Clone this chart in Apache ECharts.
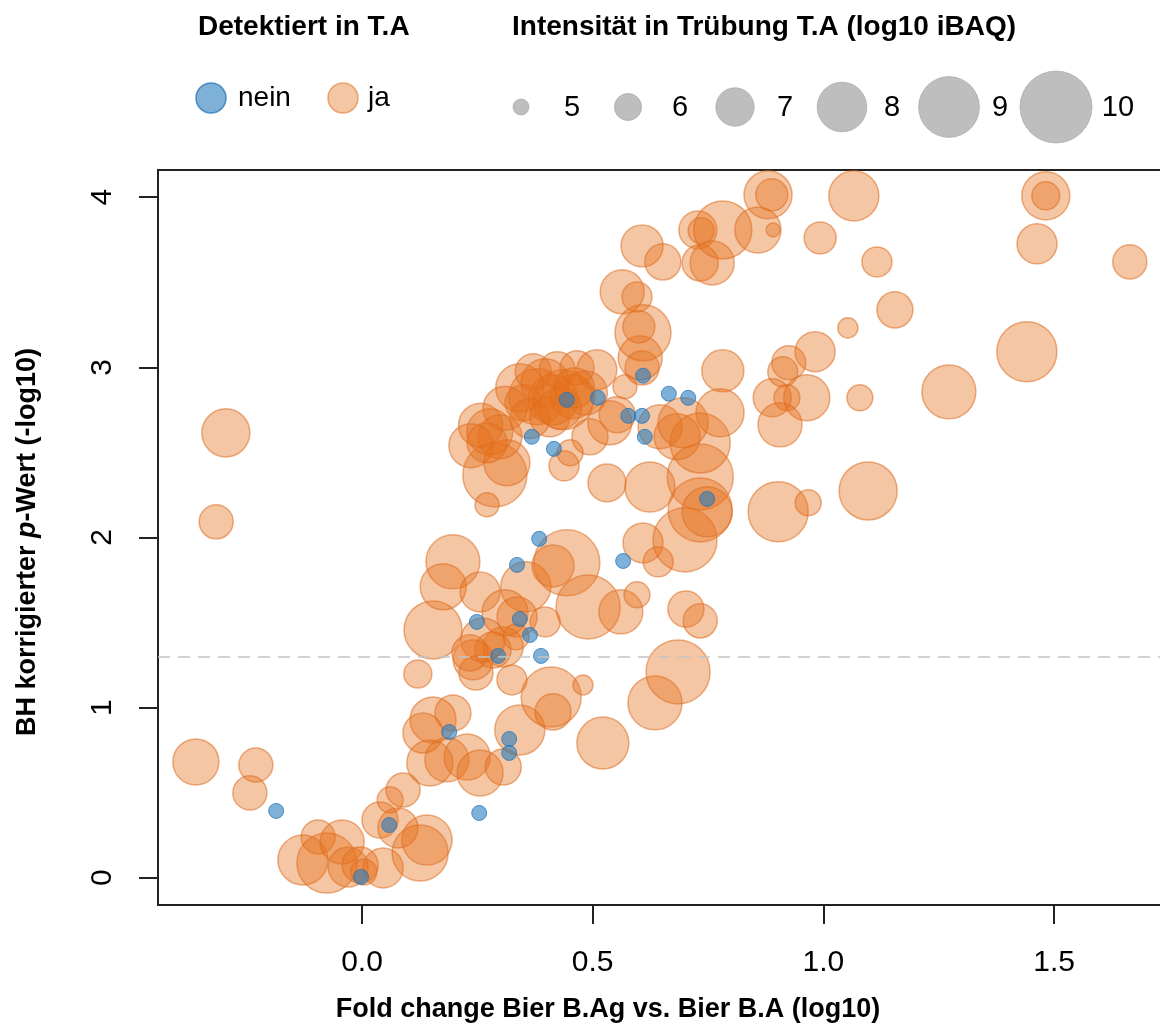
<!DOCTYPE html>
<html>
<head>
<meta charset="utf-8">
<script src="https://cdn.jsdelivr.net/npm/echarts@6/dist/echarts.min.js"></script>
<style>
html,body{margin:0;padding:0;background:#fff;}
#chart{width:1160px;height:1034px;}
</style>
</head>
<body>
<div id="chart"></div>
<script>
// ---------- data ----------
// detected in T.A ("ja"): fold change (log10), -log10 BH p, intensity (log10 iBAQ)
var jaX = [-0.295,-0.316,-0.360,-0.230,-0.243,-0.095,-0.128,-0.076,-0.043,-0.030,-0.004,0.046,0.126,0.141,0.039,0.078,0.061,0.089,0.004,
  0.121,0.154,0.197,0.132,0.147,0.184,0.228,0.256,0.306,0.342,0.410,0.414,0.479,0.522,0.635,0.685,0.247,0.325,
  0.154,0.176,0.197,0.256,0.355,0.310,0.262,0.306,0.284,0.241,0.397,0.336,0.234,0.334,0.444,0.414,0.490,0.561,0.596,0.609,0.642,0.702,0.733,
  0.700,0.733,0.733,0.748,0.902,0.967,1.097,0.624,0.531,0.438,0.288,0.314,0.271,0.277,0.299,0.271,
  0.349,0.379,0.414,0.436,0.457,0.371,0.423,0.466,0.509,0.407,0.494,0.451,0.553,0.537,0.646,0.683,0.733,0.696,
  0.570,0.607,0.603,0.609,0.600,0.564,0.596,0.607,0.652,0.728,0.735,0.782,0.858,0.891,0.733,0.759,0.880,0.888,
  1.066,1.482,1.482,1.463,1.664,1.116,0.993,1.155,1.053,0.982,0.925,0.912,0.889,0.964,0.921,0.906,1.079,0.782,0.776,1.441,1.272,
  0.342,0.397,0.484,0.310,0.364,0.257,0.236,0.430,0.460];
var jaY = [2.615,2.092,0.681,0.663,0.499,0.240,0.105,0.087,0.210,0.063,0.075,0.058,0.146,0.222,0.340,0.293,0.458,0.516,0.034,
  1.198,0.928,0.969,0.851,0.675,0.693,0.710,0.616,0.651,0.869,1.063,0.975,1.133,0.792,1.028,1.210,1.204,1.163,
  1.457,1.710,1.857,1.680,1.710,1.557,1.398,1.357,1.339,1.281,1.504,1.533,1.322,1.416,1.851,1.833,1.592,1.563,1.663,1.968,1.857,1.580,1.510,
  1.986,2.356,2.162,2.151,2.151,2.204,2.274,2.297,2.321,2.421,2.368,2.439,2.192,2.621,2.592,2.557,
  2.792,2.827,2.809,2.809,2.827,2.974,2.986,2.998,2.986,2.709,2.592,2.498,2.721,2.674,2.651,2.592,2.556,2.674,
  2.886,2.997,3.056,3.203,3.238,3.444,3.414,3.714,3.620,3.808,3.803,3.808,3.808,3.808,3.614,3.614,4.014,4.014,
  4.008,4.008,4.008,3.726,3.620,3.620,3.761,3.338,3.232,3.092,3.027,2.974,2.821,2.821,2.821,2.662,2.821,2.980,2.733,3.092,2.856,
  2.880,2.910,2.850,2.760,2.700,2.660,2.540,2.760,2.880];
var jaIntensity = [7.86,6.61,7.68,6.61,6.61,6.61,8.04,8.93,7.50,7.14,6.79,7.14,8.57,8.04,6.79,7.14,5.89,6.61,5.89,
  6.07,7.68,6.79,7.14,7.68,7.50,7.68,7.68,6.79,8.04,8.93,6.79,5.36,8.21,8.39,9.29,6.61,6.25,
  8.75,7.68,8.39,7.14,8.04,7.68,7.50,7.14,6.79,7.14,6.25,7.14,6.79,5.89,9.46,7.32,9.29,7.50,5.89,7.14,6.25,6.79,6.61,
  9.29,9.46,9.29,8.04,8.93,5.89,8.75,8.04,6.96,6.25,9.29,7.68,5.71,7.68,7.50,7.14,
  6.79,8.57,8.04,8.93,7.50,6.79,6.79,6.61,7.14,7.14,6.79,5.89,6.79,7.50,7.50,7.68,8.93,8.04,
  5.71,6.61,7.50,8.57,6.43,7.50,6.25,7.32,6.79,6.96,5.89,8.75,7.68,4.82,6.79,7.50,7.86,6.43,
  8.04,7.86,6.07,7.14,6.61,6.25,6.43,6.79,5.36,7.14,6.61,6.25,6.96,7.68,5.89,7.50,5.89,7.32,7.86,8.93,8.39,
  7.86,7.86,7.50,7.50,7.14,7.50,7.50,7.32,7.14];
// not detected in T.A ("nein")
var neinX = [-0.186,0.254,0.319,0.319,0.189,0.059,-0.002,0.295,0.388,0.249,0.342,0.364,0.336,0.384,0.566,0.748,0.416,0.368,0.444,0.511,0.577,0.607,0.613,0.609,0.665,0.707];
var neinY = [0.393,0.381,0.816,0.734,0.857,0.310,0.005,1.304,1.304,1.504,1.521,1.427,1.839,1.992,1.862,2.227,2.521,2.592,2.809,2.821,2.715,2.715,2.592,2.951,2.845,2.821];
// legend / axis labels
var legendSizes = [5, 6, 7, 8, 9, 10];
var xTicks = [0, 0.5, 1.0, 1.5];
var yTicks = [0, 1, 2, 3, 4];
var threshold = 1.301; // -log10(0.05)

// ---------- helpers ----------
function radiusOf(v){ return 8 + 5.6 * (v - 5); }
var FONT = 'Liberation Sans, Arial, Helvetica, sans-serif';
var ORANGE_FILL = 'rgba(230,112,28,0.40)';
var ORANGE_LINE = 'rgba(220,110,35,0.55)';
var BLUE_FILL = 'rgba(40,125,190,0.60)';
var BLUE_LINE = 'rgba(40,115,180,0.75)';
var AXIS_LINE = {show:true, onZero:false, lineStyle:{color:'#222', width:2}};

var jaData = jaX.map(function(x,i){ return [x, jaY[i], jaIntensity[i]]; });
var neinData = neinX.map(function(x,i){ return [x, neinY[i]]; });

// legend graphics
var graphics = [
  {type:'text', x:198, y:27, style:{text:'Detektiert in T.A', font:'bold 28px '+FONT, fill:'#000', textVerticalAlign:'middle'}},
  {type:'text', x:512, y:27, style:{text:'Intensität in Trübung T.A (log10 iBAQ)', font:'bold 28px '+FONT, fill:'#000', textVerticalAlign:'middle'}},
  {type:'circle', shape:{cx:211, cy:98, r:15}, style:{fill:BLUE_FILL, stroke:BLUE_LINE, lineWidth:1.5}},
  {type:'text', x:238, y:98, style:{text:'nein', font:'28px '+FONT, fill:'#000', textVerticalAlign:'middle'}},
  {type:'circle', shape:{cx:343, cy:98, r:15}, style:{fill:ORANGE_FILL, stroke:ORANGE_LINE, lineWidth:1.5}},
  {type:'text', x:368, y:98, style:{text:'ja', font:'28px '+FONT, fill:'#000', textVerticalAlign:'middle'}},
  // axis titles
  {type:'text', x:608, y:1010, style:{text:'Fold change Bier B.Ag vs. Bier B.A (log10)', font:'bold 27px '+FONT, fill:'#000', textAlign:'center', textVerticalAlign:'middle'}},
  {type:'text', x:28, y:542, rotation:Math.PI/2, style:{
     text:'BH korrigierter {i|p}-Wert (-log10)', font:'bold 27px '+FONT, fill:'#000', textAlign:'center', textVerticalAlign:'middle',
     rich:{i:{font:'italic bold 27px '+FONT, fill:'#000'}}}}
];
var legendCx = [521, 628, 735, 842, 949, 1056];
var legendLabelX = [572, 680, 785, 892, 1000, 1118];
legendSizes.forEach(function(v,i){
  graphics.push({type:'circle', shape:{cx:legendCx[i], cy:107, r:radiusOf(v)}, style:{fill:'rgba(150,150,150,0.62)', stroke:'rgba(160,160,160,0.6)', lineWidth:1}});
  graphics.push({type:'text', x:legendLabelX[i], y:108, style:{text:String(v), font:'29px '+FONT, fill:'#000', textAlign:'center', textVerticalAlign:'middle'}});
});

var chart = echarts.init(document.getElementById('chart'), null, {renderer:'canvas'});
chart.setOption({
  animation:false,
  backgroundColor:'#fff',
  grid:{left:158, top:170, right:0, bottom:129, show:false},
  xAxis:[
    {type:'value', position:'bottom', min:-0.4421, max:1.7295, splitLine:{show:false},
     axisLine:AXIS_LINE,
     axisTick:{show:true, inside:false, length:19, customValues:xTicks, lineStyle:{color:'#222', width:2}},
     axisLabel:{customValues:xTicks, formatter:function(v){return v.toFixed(1);}, margin:43, fontSize:30, fontFamily:FONT, color:'#000'}},
    {type:'value', position:'top', min:-0.4421, max:1.7295, splitLine:{show:false},
     axisLine:AXIS_LINE, axisTick:{show:false}, axisLabel:{show:false}}
  ],
  yAxis:{type:'value', min:-0.16, max:4.16, splitLine:{show:false},
    axisLine:AXIS_LINE,
    axisTick:{show:true, inside:false, length:19, customValues:yTicks, lineStyle:{color:'#222', width:2}},
    axisLabel:{customValues:yTicks, rotate:90, formatter:function(v){return String(Math.round(v));}, margin:40, fontSize:30, fontFamily:FONT, color:'#000'}},
  series:[
    {type:'scatter', name:'ja', data:jaData, symbol:'circle',
     symbolSize:function(val){ return 2*radiusOf(val[2]); },
     itemStyle:{color:ORANGE_FILL, borderColor:ORANGE_LINE, borderWidth:1.5, opacity:1},
     markLine:{silent:true, symbol:['none','none'], label:{show:false},
       lineStyle:{type:[12,8], color:'#c4c4c4', width:1.6},
       data:[{yAxis:threshold}]},
     z:2},
    {type:'scatter', name:'nein', data:neinData, symbol:'circle', symbolSize:15,
     itemStyle:{color:BLUE_FILL, borderColor:BLUE_LINE, borderWidth:1, opacity:1}, z:3}
  ],
  graphic:graphics
});
</script>
</body>
</html>
